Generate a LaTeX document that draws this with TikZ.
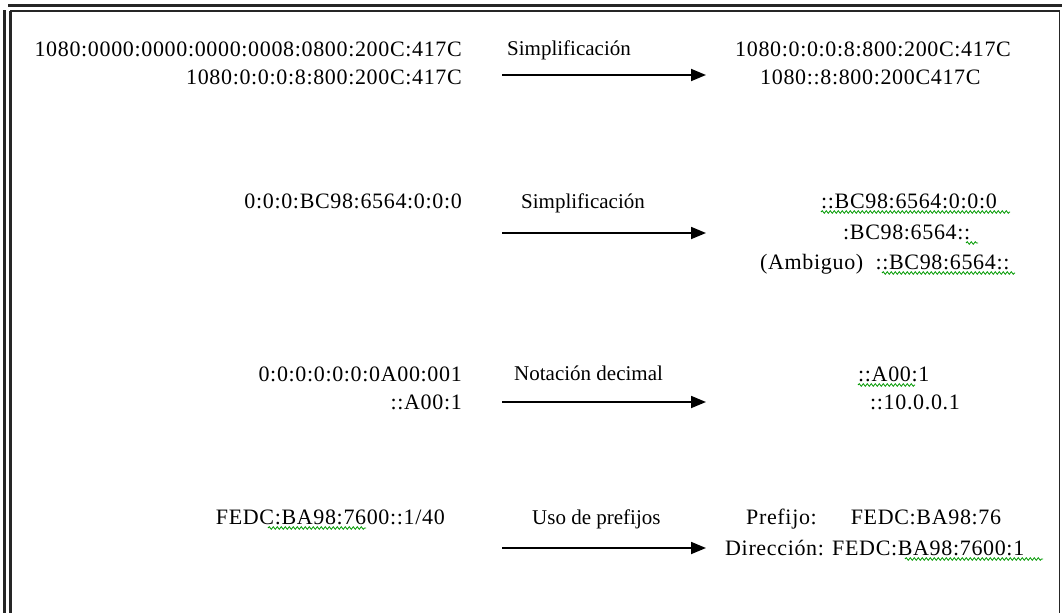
\documentclass[tikz,border=0pt]{standalone}
\usepackage{fontspec}
\setmainfont{Liberation Serif}
\usetikzlibrary{arrows.meta,decorations.pathmorphing}
\tikzset{
  txt/.style={inner sep=0pt, font=\fontsize{21}{25}\selectfont},
  addr/.style={txt, font=\fontsize{22}{26}\selectfont\addfontfeature{LetterSpace=3}},
  conv/.style={line width=1.8pt, -{Triangle[length=15pt,width=12pt]}},
  frameline/.style={black!85},
  spell/.style={draw=green!60!black, line width=0.8pt, decorate,
    decoration={snake, amplitude=1.3pt, segment length=4pt}}
}
\begin{document}
\begin{tikzpicture}[x=1pt,y=-1pt]
\useasboundingbox (0,0) rectangle (1062,613);
% frame
\draw[frameline, line width=3.5pt] (8,5.5) -- (1062,5.5);
\draw[frameline, line width=1.6pt] (10,11) -- (1060,11);
\draw[frameline, line width=2.2pt] (4.5,10) -- (4.5,613);
\draw[frameline, line width=2.2pt] (10.5,11) -- (10.5,613);
\draw[frameline, line width=1.6pt] (1059.5,11) -- (1059.5,613);

% row 1
\node[addr, anchor=base east] (a1) at (462,56) {1080:0000:0000:0000:0008:0800:200C:417C};
\node[addr, anchor=base east] (a2) at (462,84) {1080:0:0:0:8:800:200C:417C};
\node[txt, anchor=base west] (l1) at (507,55) {Simplificación};
\coordinate (s1) at (502,75);
\coordinate (e1) at (706,75);
\draw[conv] (s1) -- (e1);
\node[addr, anchor=base west] (b1) at (735,56) {1080:0:0:0:8:800:200C:417C};
\node[addr, anchor=base west] (b2) at (760,84) {1080::8:800:200C417C};

% row 2
\node[addr, anchor=base east] (c1) at (462,208) {0:0:0:BC98:6564:0:0:0};
\node[txt, anchor=base west] (l2) at (521,208) {Simplificación};
\coordinate (s2) at (502,233);
\coordinate (e2) at (706,233);
\draw[conv] (s2) -- (e2);
\node[addr, anchor=base west] (d1) at (821,208) {::BC98:6564:0:0:0};
\node[addr, anchor=base west] (d2) at (843,239) {:BC98:6564::};
\node[addr, anchor=base west] (d3) at (760,269) {(Ambiguo) \ ::BC98:6564::};

% row 3
\node[addr, anchor=base east] (f1) at (462,381) {0:0:0:0:0:0:0A00:001};
\node[addr, anchor=base east] (f2) at (462,409) {::A00:1};
\node[txt, anchor=base west] (l3) at (514,380) {Notación decimal};
\coordinate (s3) at (502,402);
\coordinate (e3) at (706,402);
\draw[conv] (s3) -- (e3);
\node[addr, anchor=base west] (g1) at (858,381) {::A00:1};
\node[addr, anchor=base west] (g2) at (870,409) {::10.0.0.1};

% row 4
\node[addr, anchor=base east] (h1) at (445,524) {FEDC:BA98:7600::1/40};
\node[txt, anchor=base west] (l4) at (532,524) {Uso de prefijos};
\coordinate (s4) at (502,548);
\coordinate (e4) at (706,548);
\draw[conv] (s4) -- (e4);
\node[addr, anchor=base west] (k1) at (746,524) {Prefijo:\hspace{34pt}FEDC:BA98:76};
\node[addr, anchor=base west] (k2) at (725,555) {Dirección: FEDC:BA98:7600:1};

% spell-check underlines
\draw[spell] (821,212) -- (1010,212);
\draw[spell] (966,243) -- (978,243);
\draw[spell] (882,273) -- (1015,273);
\draw[spell] (858,385) -- (915,385);
\draw[spell] (268,528) -- (366,528);
\draw[spell] (905,559) -- (1043,559);
\end{tikzpicture}
\end{document}
